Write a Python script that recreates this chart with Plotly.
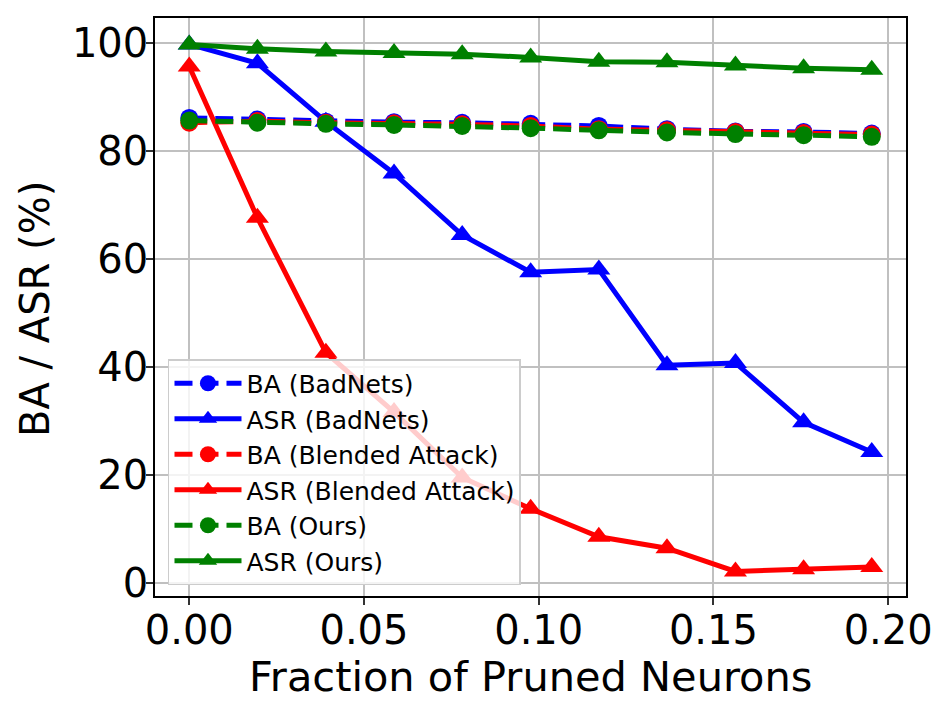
import plotly.graph_objects as go

fraction = [0.0, 0.0195, 0.0391, 0.0586, 0.0781, 0.0977, 0.1172, 0.1367, 0.1563, 0.1758, 0.1953]

ba_badnets = [86.1, 85.8, 85.4, 85.3, 85.2, 85.0, 84.6, 84.0, 83.6, 83.5, 83.2]
asr_badnets = [99.7, 96.2, 85.4, 75.8, 64.4, 57.5, 58.0, 40.3, 40.7, 29.7, 24.2]
ba_blended = [85.2, 85.5, 85.2, 85.1, 84.9, 84.6, 84.0, 83.8, 83.5, 83.3, 83.0]
asr_blended = [95.6, 67.6, 42.6, 31.6, 19.5, 13.7, 8.5, 6.4, 2.1, 2.5, 2.9]
ba_ours = [85.6, 85.2, 85.0, 84.8, 84.6, 84.2, 83.8, 83.4, 83.1, 82.9, 82.6]
asr_ours = [99.7, 98.9, 98.4, 98.1, 97.9, 97.3, 96.5, 96.4, 95.8, 95.3, 95.0]

x_ticks = [0, 0.05, 0.1, 0.15, 0.2]
x_tick_labels = ["0.00", "0.05", "0.10", "0.15", "0.20"]
y_ticks = [0, 20, 40, 60, 80, 100]

series = [
    ("BA (BadNets)", ba_badnets, "#0000ff", "dash"),
    ("ASR (BadNets)", asr_badnets, "#0000ff", "solid"),
    ("BA (Blended Attack)", ba_blended, "#ff0000", "dash"),
    ("ASR (Blended Attack)", asr_blended, "#ff0000", "solid"),
    ("BA (Ours)", ba_ours, "#008000", "dash"),
    ("ASR (Ours)", asr_ours, "#008000", "solid"),
]

FONT = "DejaVu Sans"
fig = go.Figure()
for name, vals, color, style in series:
    is_ba = style == "dash"
    fig.add_trace(go.Scatter(
        x=fraction, y=vals, name=name, mode="lines+markers",
        line=dict(color=color, width=5, dash="18px,8px" if is_ba else "solid"),
        marker=dict(symbol="circle" if is_ba else "triangle-up",
                    size=18 if is_ba else 20, color=color,
                    line=dict(width=0)),
    ))

axis_common = dict(
    showline=True, linecolor="black", linewidth=1.5, mirror=True,
    ticks="outside", ticklen=7, tickwidth=1.5, tickcolor="#333333",
    showgrid=True, gridcolor="#c0c0c0", gridwidth=1.5,
    zeroline=False, automargin=False,
    tickfont=dict(family=FONT, size=40, color="black"),
)

fig.update_layout(
    width=944, height=706,
    margin=dict(l=147, r=46, t=10, b=118),
    paper_bgcolor="white", plot_bgcolor="white",
    font=dict(family=FONT, color="black"),
    xaxis=dict(range=[-0.0098, 0.2051], tickvals=x_ticks, ticktext=x_tick_labels,
               ticklabelstandoff=-9, **axis_common),
    yaxis=dict(range=[-2.46, 104.6], tickvals=y_ticks,
               ticklabelstandoff=-10, **axis_common),
    legend=dict(x=0.0173, y=0.019, xanchor="left", yanchor="bottom",
                bgcolor="rgba(255,255,255,0.8)", bordercolor="#cccccc", borderwidth=1.5,
                font=dict(family=FONT, size=25, color="black"),
                itemwidth=67, tracegroupgap=0),
    showlegend=True,
    annotations=[
        dict(text="Fraction of Pruned Neurons", xref="paper", yref="paper",
             x=0.5, y=-0.139, xanchor="center", yanchor="middle", showarrow=False,
             font=dict(family=FONT, size=41.5, color="black")),
        dict(text="BA / ASR (%)", xref="paper", yref="paper", textangle=-90,
             x=-0.1599, y=0.4965, xanchor="center", yanchor="middle", showarrow=False,
             font=dict(family=FONT, size=40, color="black")),
    ],
)

fig.write_html("out.html")
